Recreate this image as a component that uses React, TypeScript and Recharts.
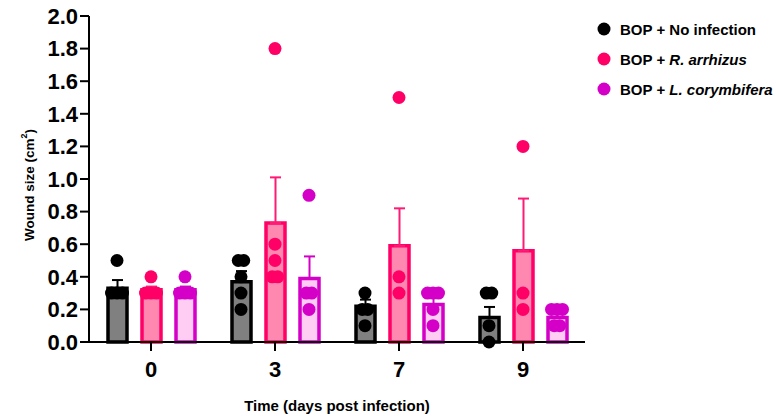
import { ComposedChart, Bar, XAxis, YAxis, Scatter, ErrorBar, Legend, Label } from "recharts"

const FONT = "Arial, 'Liberation Sans', Helvetica, sans-serif"

// x categories (days post infection)
const days = ["0", "3", "7", "9"]
const yTicks = [0, 0.2, 0.4, 0.6, 0.8, 1.0, 1.2, 1.4, 1.6, 1.8, 2.0]

// legend labels: plain prefix + italic species
const seriesPrefix = ["BOP + No infection", "BOP + ", "BOP + "]
const seriesItalic = ["", "R. arrhizus", "L. corymbifera"]

// bar means and upper SEM
const noInfectionMean = [0.33, 0.37, 0.22, 0.15]
const noInfectionSem = [0.05, 0.065, 0.04, 0.065]
const arrhizusMean = [0.32, 0.73, 0.59, 0.56]
const arrhizusSem = [0.02, 0.28, 0.23, 0.32]
const corymbiferaMean = [0.32, 0.39, 0.23, 0.15]
const corymbiferaSem = [0.02, 0.135, 0.04, 0.03]

// individual animals per day
const noInfectionPoints = [
  [0.5, 0.3, 0.3, 0.3],
  [0.5, 0.5, 0.4, 0.3, 0.2],
  [0.3, 0.2, 0.2, 0.1],
  [0.3, 0.3, 0.1, 0.0],
]
const arrhizusPoints = [
  [0.4, 0.3, 0.3, 0.3],
  [1.8, 0.6, 0.5, 0.4, 0.4],
  [1.5, 0.4, 0.3],
  [1.2, 0.3, 0.2],
]
const corymbiferaPoints = [
  [0.4, 0.3, 0.3, 0.3],
  [0.9, 0.3, 0.3, 0.2],
  [0.3, 0.3, 0.3, 0.2, 0.1],
  [0.2, 0.2, 0.2, 0.1, 0.1],
]

const BAR_SIZE = 19
const BAR_GAP = 15
const DOT_R = 6.5

const series = [
  { key: "ni", mean: noInfectionMean, sem: noInfectionSem, pts: noInfectionPoints, stroke: "#000000", fill: "#808080", err: "#000000" },
  { key: "ra", mean: arrhizusMean, sem: arrhizusSem, pts: arrhizusPoints, stroke: "#FF0066", fill: "#FF88B0", err: "#FF1A75" },
  { key: "lc", mean: corymbiferaMean, sem: corymbiferaSem, pts: corymbiferaPoints, stroke: "#D400C8", fill: "#FFCCF4", err: "#D400C8" },
]

const barData = days.map((day, i) => {
  const row: any = { day }
  series.forEach((s) => {
    row[s.key] = s.mean[i]
    row[s.key + "Err"] = [0, s.sem[i]]
  })
  return row
})

// scatter rows: x = category index, y = value, plus rank among equal values for side-by-side spread
const pointData = series.map((s) =>
  s.pts.flatMap((vals, i) =>
    vals.map((v, j) => {
      const same = vals.filter((w) => w === v).length
      const rank = vals.slice(0, j).filter((w) => w === v).length
      return { x: i, y: v, rank, same }
    })
  )
)

function Dot(props: any, shift: number, color: string) {
  const { cx, cy, payload } = props
  const spread = (payload.rank - (payload.same - 1) / 2) * 5.5
  return <circle cx={cx + shift + spread} cy={cy} r={DOT_R} fill={color} />
}

function YTitle(props: any) {
  const { viewBox } = props
  const cx = viewBox.x + 29
  const cy = viewBox.y + viewBox.height / 2 + 6
  return (
    <text
      x={cx}
      y={cy}
      transform={`rotate(-90 ${cx} ${cy})`}
      textAnchor="middle"
      dominantBaseline="central"
      fontFamily={FONT}
      fontWeight={700}
      fontSize={13.5}
      fill="#000"
    >
      Wound size (cm
      <tspan dy={-5} fontSize={9}>2</tspan>
      <tspan dy={5}>)</tspan>
    </text>
  )
}

function XTitle(props: any) {
  const { viewBox } = props
  return (
    <text
      x={viewBox.x + viewBox.width / 2}
      y={viewBox.y + 69}
      textAnchor="middle"
      fontFamily={FONT}
      fontWeight={700}
      fontSize={15}
      fill="#000"
    >
      Time (days post infection)
    </text>
  )
}

function LegendBox() {
  return (
    <div style={{ fontFamily: FONT, fontWeight: 700, fontSize: 15, color: "#000" }}>
      {series.map((s, i) => (
        <div key={s.key} style={{ display: "flex", alignItems: "center", height: 30 }}>
          <svg width={16} height={14}>
            <circle cx={8} cy={7} r={DOT_R} fill={s.stroke} />
          </svg>
          <span style={{ marginLeft: 8, whiteSpace: "nowrap" }}>
            {seriesPrefix[i]}
            {seriesItalic[i] && <i>{seriesItalic[i]}</i>}
          </span>
        </div>
      ))}
    </div>
  )
}

export default function App() {
  const tickStyle = { fill: "#000", fontWeight: 700, fontFamily: FONT }
  return (
    <div style={{ position: "absolute", left: 0, top: 0, background: "#fff" }}>
      <ComposedChart
        width={776}
        height={416}
        data={barData}
        margin={{ top: 16, right: 191, bottom: 0, left: 0 }}
        barGap={BAR_GAP}
      >
        <XAxis
          dataKey="day"
          height={74}
          tick={{ ...tickStyle, fontSize: 22 }}
          tickSize={9}
          tickMargin={10}
          axisLine={{ stroke: "#000", strokeWidth: 2 }}
          tickLine={{ stroke: "#000", strokeWidth: 2 }}
        >
          <Label content={XTitle} />
        </XAxis>
        <XAxis xAxisId="pts" type="number" dataKey="x" domain={[-0.5, 3.5]} hide />
        <YAxis
          width={89}
          domain={[0, 2]}
          ticks={yTicks}
          interval={0}
          tickFormatter={(v: number) => v.toFixed(1)}
          tick={{ ...tickStyle, fontSize: 22 }}
          tickSize={9}
          tickMargin={2}
          axisLine={{ stroke: "#000", strokeWidth: 2 }}
          tickLine={{ stroke: "#000", strokeWidth: 2 }}
        >
          <Label content={YTitle} />
        </YAxis>
        <Legend
          layout="horizontal"
          verticalAlign="middle"
          align="center"
          wrapperStyle={{ left: 596, top: 14, width: 180, height: 92 }}
          content={() => <LegendBox />}
        />
        {series.map((s) => (
          <Bar
            key={s.key}
            dataKey={s.key}
            fill={s.fill}
            stroke={s.stroke}
            strokeWidth={3.5}
            barSize={BAR_SIZE}
            isAnimationActive={false}
          >
            <ErrorBar dataKey={s.key + "Err"} width={5.5} strokeWidth={2} stroke={s.err} direction="y" />
          </Bar>
        ))}
        {series.map((s, si) => (
          <Scatter
            key={s.key + "pts"}
            data={pointData[si]}
            dataKey="y"
            xAxisId="pts"
            isAnimationActive={false}
            shape={(p: any) => Dot(p, (si - 1) * (BAR_SIZE + BAR_GAP), s.stroke)}
          />
        ))}
      </ComposedChart>
    </div>
  )
}
